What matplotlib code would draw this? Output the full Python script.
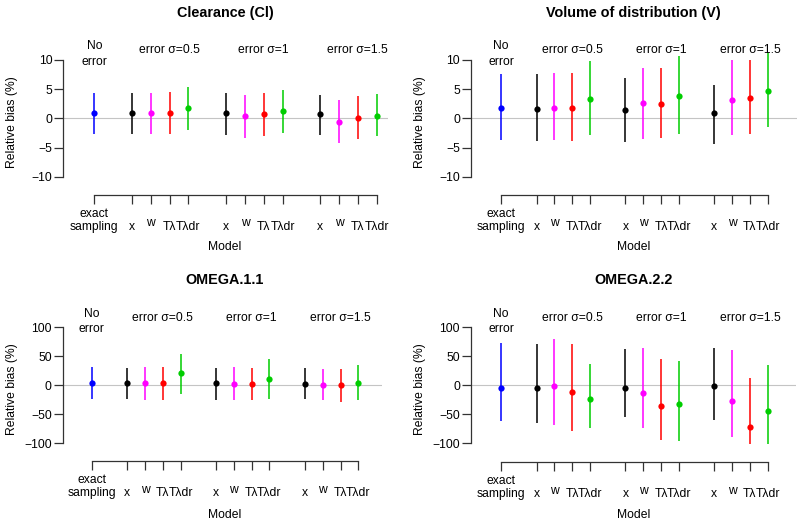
import matplotlib
matplotlib.use("Agg")
import matplotlib.pyplot as plt
from matplotlib.transforms import blended_transform_factory as btf

plt.rcParams['font.family'] = ['Liberation Sans', 'DejaVu Sans']
plt.rcParams['axes.unicode_minus'] = True

# ---------------- data ----------------
positions = [1, 3, 4, 5, 6, 8, 9, 10, 11, 13, 14, 15, 16]
tick_labels = ["exact\nsampling", "x", "w", "Tλ", "Tλdr",
               "x", "w", "Tλ", "Tλdr",
               "x", "w", "Tλ", "Tλdr"]
point_colors = ["#0000FF", "#000000", "#FF00FF", "#FF0000", "#00CD00",
                "#000000", "#FF00FF", "#FF0000", "#00CD00",
                "#000000", "#FF00FF", "#FF0000", "#00CD00"]
group_labels = ["No\nerror", "error σ=0.5", "error σ=1", "error σ=1.5"]
group_pos = [1, 5, 10, 15]

cl_mean = [0.97, 0.86, 0.86, 0.97, 1.7, 0.86, 0.4, 0.69, 1.26, 0.69, -0.57, 0.11, 0.46]
cl_low = [-2.7, -2.7, -2.7, -2.6, -2.0, -2.86, -3.3, -2.97, -2.46, -2.9, -4.3, -3.6, -3.1]
cl_high = [4.4, 4.3, 4.4, 4.45, 5.3, 4.3, 4.06, 4.3, 4.86, 4.06, 3.14, 3.83, 4.17]

v_mean = [1.83, 1.54, 1.83, 1.83, 3.4, 1.43, 2.57, 2.46, 3.9, 0.97, 3.14, 3.54, 4.7]
v_low = [-3.7, -3.8, -3.7, -3.9, -2.9, -4.1, -3.5, -3.3, -2.6, -4.4, -2.86, -2.6, -1.54]
v_high = [7.6, 7.6, 7.8, 7.8, 9.9, 6.86, 8.7, 8.7, 10.6, 5.8, 10.0, 10.0, 11.3]

o1_mean = [4.0, 4.0, 4.0, 3.4, 21.3, 3.4, 2.9, 2.3, 10.3, 2.3, 0.6, 1.1, 4.6]
o1_low = [-23, -23.6, -25.3, -25.3, -15.5, -25.3, -25.3, -25.9, -23, -23, -25.9, -28, -25.9]
o1_high = [31.6, 30.5, 31.6, 31, 53.4, 29.9, 31.6, 30.5, 44.8, 30.5, 28.7, 28.7, 34.5]

o2_mean = [-4.6, -4.0, -1.7, -10.9, -23, -4, -13.8, -35.6, -31.6, -1.1, -27, -72.4, -44.3]
o2_low = [-62, -64.4, -69, -78.7, -73, -55.2, -73, -93.7, -95.4, -59, -89, -101, -100.6]
o2_high = [73.6, 70.7, 80.5, 71.8, 36.8, 62, 65, 46, 41.4, 63.8, 60.3, 13.2, 34.5]

yticks_small = [-10, -5, 0, 5, 10]
yticks_big = [-100, -50, 0, 50, 100]

titles = ["Clearance (Cl)", "Volume of distribution (V)", "OMEGA.1.1", "OMEGA.2.2"]

# ---------------- layout (pixels) ----------------
W, H = 800, 524
fig = plt.figure(figsize=(W / 100, H / 100), dpi=100)


def fx(p):
    return p / W


def fy(p):
    return 1 - p / H


panels = [
    dict(title=titles[0], mean=cl_mean, low=cl_low, high=cl_high, yticks=yticks_small,
         box=(63.3, 55, 388, 182), xref=(94.3, 376.7), yref=(60, 176.7), axis_y=195,
         ylab=(12.5, 121.7), tpos=(225.5, 13), mpos=(225, 247)),
    dict(title=titles[1], mean=v_mean, low=v_low, high=v_high, yticks=yticks_small,
         box=(471, 55, 797, 182), xref=(501, 767.7), yref=(60, 176.7), axis_y=195,
         ylab=(419.5, 121.7), tpos=(633, 13), mpos=(634, 247)),
    dict(title=titles[2], mean=o1_mean, low=o1_low, high=o1_high, yticks=yticks_big,
         box=(62.7, 322, 382, 449), xref=(91.7, 358.3), yref=(327.3, 443.3), axis_y=461.3,
         ylab=(12.5, 389), tpos=(224.5, 280), mpos=(225, 515)),
    dict(title=titles[3], mean=o2_mean, low=o2_low, high=o2_high, yticks=yticks_big,
         box=(471, 322, 796, 449), xref=(501, 767.7), yref=(327.3, 443.3), axis_y=462,
         ylab=(419.5, 389), tpos=(633.5, 280), mpos=(634, 515)),
]

FS = 8.7
axcol = "#333333"

for p in panels:
    l, t, r, b = p["box"]
    ax = fig.add_axes([fx(l), fy(b), (r - l) / W, (b - t) / H])
    x0, x1 = positions[0], positions[-1]
    s = (p["xref"][1] - p["xref"][0]) / (x1 - x0)
    ax.set_xlim(x0 - (p["xref"][0] - l) / s, x1 + (r - p["xref"][1]) / s)
    ymin, ymax = min(p["yticks"]), max(p["yticks"])
    sy = (p["yref"][1] - p["yref"][0]) / (ymax - ymin)
    ax.set_ylim(ymin - (b - p["yref"][1]) / sy, ymax + (p["yref"][0] - t) / sy)

    ax.patch.set_alpha(0)
    for sp in ["top", "right"]:
        ax.spines[sp].set_visible(False)
    ax.spines["left"].set_bounds(ymin, ymax)
    ax.spines["bottom"].set_bounds(x0, x1)
    ax.spines["bottom"].set_position(("outward", (p["axis_y"] - b) * 0.72))
    for sp in ["left", "bottom"]:
        ax.spines[sp].set_color(axcol)
        ax.spines[sp].set_linewidth(0.9)

    ax.set_yticks(p["yticks"])
    ax.set_xticks(positions)
    ax.set_xticklabels([])
    ax.tick_params(direction="out", length=6.4, width=0.9, color=axcol,
                   labelsize=FS, pad=1.5)

    ax.axhline(0, color="#c4c4c4", lw=0.8, zorder=0)
    for xp, m, lo, hi, c in zip(positions, p["mean"], p["low"], p["high"], point_colors):
        ax.vlines(xp, lo, hi, color=c, lw=1.1, clip_on=False, zorder=2)
        ax.plot([xp], [m], "o", color=c, ms=4.5, mew=0, clip_on=False, zorder=3)

    tr = btf(ax.transData, fig.transFigure)
    ay = p["axis_y"]
    for xp, lab in zip(positions, tick_labels):
        if "\n" in lab:
            first, second = lab.split("\n")
            ax.text(xp, fy(ay + 21.7), first, transform=tr, ha="center",
                    va="baseline", fontsize=FS)
            ax.text(xp, fy(ay + 35), second, transform=tr, ha="center",
                    va="baseline", fontsize=FS)
        else:
            off = 31.5 if lab == "w" else 35
            ax.text(xp, fy(ay + off), lab, transform=tr, ha="center",
                    va="baseline", fontsize=FS)

    ytop = p["yref"][0]
    for gx, gl in zip(group_pos, group_labels):
        if "\n" in gl:
            first, second = gl.split("\n")
            ax.text(gx, fy(ytop - 10.7), first, transform=tr, ha="center",
                    va="baseline", fontsize=FS)
            ax.text(gx, fy(ytop + 5), second, transform=tr, ha="center",
                    va="baseline", fontsize=FS)
        else:
            ax.text(gx, fy(ytop - 6.7), gl, transform=tr, ha="center",
                    va="baseline", fontsize=FS)

    fig.text(fx(p["tpos"][0]), fy(p["tpos"][1]), p["title"], ha="center",
             va="center", fontsize=10.4, fontweight="bold")
    fig.text(fx(p["ylab"][0]), fy(p["ylab"][1]), "Relative bias (%)", ha="center",
             va="center", rotation=90, fontsize=FS)
    fig.text(fx(p["mpos"][0]), fy(p["mpos"][1]), "Model", ha="center",
             va="center", fontsize=FS)

fig.savefig("out.png", dpi=100)
